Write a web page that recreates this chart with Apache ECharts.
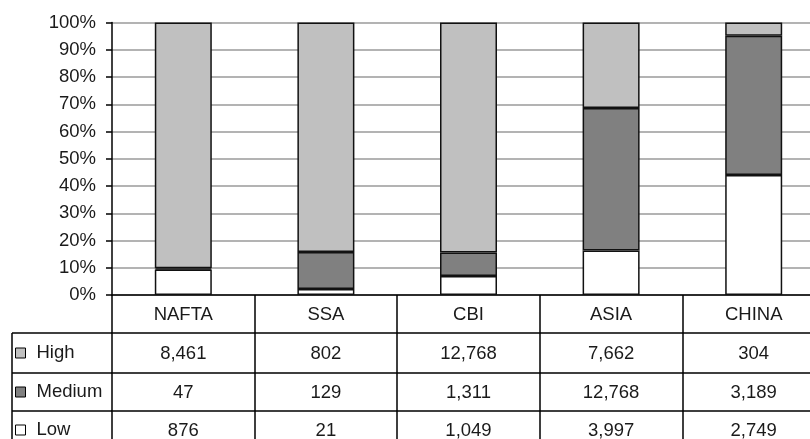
<!DOCTYPE html>
<html>
<head>
<meta charset="utf-8">
<script src="https://cdn.jsdelivr.net/npm/echarts@6/dist/echarts.min.js"></script>
<style>
html,body{margin:0;padding:0;background:#fff;}
#chart{width:810px;height:439px;}
</style>
</head>
<body>
<div id="chart"></div>
<script>
var categories = ['NAFTA', 'SSA', 'CBI', 'ASIA', 'CHINA'];
var highValues = [8461, 802, 12768, 7662, 304];
var mediumValues = [47, 129, 1311, 12768, 3189];
var lowValues = [876, 21, 1049, 3997, 2749];
var seriesNames = ['High', 'Medium', 'Low'];

var totals = categories.map(function (c, i) { return highValues[i] + mediumValues[i] + lowValues[i]; });
function pct(arr) { return arr.map(function (v, i) { return v / totals[i] * 100; }); }
function fmt(arr) { return arr.map(function (v) { return v.toLocaleString('en-US'); }); }

var FONT = 'Liberation Sans, Arial, sans-serif';
var FS = 18.5;
var TXT = '#1a1a1a';

var gridLeft = 112, gridTop = 22.5, gridW = 713, gridH = 272.5;
var rowH = [38, 40, 38, 38];

function tableAxis(data, offset, h) {
  return {
    type: 'category', data: data, position: 'bottom', offset: offset, gridIndex: 0,
    axisLine: { show: true, lineStyle: { color: '#000', width: 1.5 } },
    axisTick: { show: true, length: h, lineStyle: { color: '#000', width: 1.5 } },
    axisLabel: { fontFamily: FONT, fontSize: FS, color: TXT, margin: (h - FS) / 2 + 1, interval: 0 },
    splitLine: { show: false }
  };
}

var y0 = gridTop + gridH;
var rowTops = [y0 + rowH[0], y0 + rowH[0] + rowH[1], y0 + rowH[0] + rowH[1] + rowH[2]];

function legendFor(name, i) {
  var center = rowTops[i] + rowH[i + 1] / 2;
  return {
    data: [name], orient: 'horizontal', left: 15, top: center - 10, padding: 0,
    itemWidth: 10, itemHeight: 10, icon: 'rect',
    itemStyle: { borderColor: '#000', borderWidth: 1 },
    textStyle: { fontFamily: FONT, fontSize: FS, color: TXT, lineHeight: 20, padding: [0, 0, 0, 6] },
    selectedMode: false
  };
}

var chart = echarts.init(document.getElementById('chart'));
var opt = {
  animation: false,
  backgroundColor: '#fff',
  grid: { left: gridLeft, top: gridTop, width: gridW, height: gridH, containLabel: false, outerBoundsMode: 'none' },
  legend: seriesNames.map(legendFor),
  xAxis: [
    tableAxis(categories, 0, rowH[0]),
    tableAxis(fmt(highValues), rowH[0], rowH[1]),
    tableAxis(fmt(mediumValues), rowH[0] + rowH[1], rowH[2]),
    tableAxis(fmt(lowValues), rowH[0] + rowH[1] + rowH[2], rowH[3])
  ],
  yAxis: {
    type: 'value', min: 0, max: 100, interval: 10,
    axisLine: { show: true, lineStyle: { color: '#000', width: 1.5 } },
    axisTick: { show: true, length: 6, lineStyle: { color: '#000', width: 1.5 } },
    axisLabel: { fontFamily: FONT, fontSize: FS, color: TXT, margin: 16, formatter: '{value}%' },
    splitLine: { show: true, lineStyle: { color: '#b3b3b3', width: 2 } }
  },
  series: [
    { name: 'Low', type: 'bar', stack: 't', barWidth: 57, data: pct(lowValues),
      itemStyle: { color: '#ffffff', borderColor: '#111', borderWidth: 1.5 } },
    { name: 'Medium', type: 'bar', stack: 't', barWidth: 57, data: pct(mediumValues),
      itemStyle: { color: '#808080', borderColor: '#111', borderWidth: 1.5 } },
    { name: 'High', type: 'bar', stack: 't', barWidth: 57, data: pct(highValues),
      itemStyle: { color: '#c0c0c0', borderColor: '#111', borderWidth: 1.5 } }
  ],
  graphic: []
};

var lineStyle = { stroke: '#000', lineWidth: 1.5 };
opt.graphic.push({ type: 'line', shape: { x1: 12, y1: rowTops[0], x2: 12, y2: 460 }, style: lineStyle, silent: true });
rowTops.forEach(function (y) {
  opt.graphic.push({ type: 'line', shape: { x1: 12, y1: y, x2: gridLeft, y2: y }, style: lineStyle, silent: true });
});
chart.setOption(opt);
</script>
</body>
</html>
